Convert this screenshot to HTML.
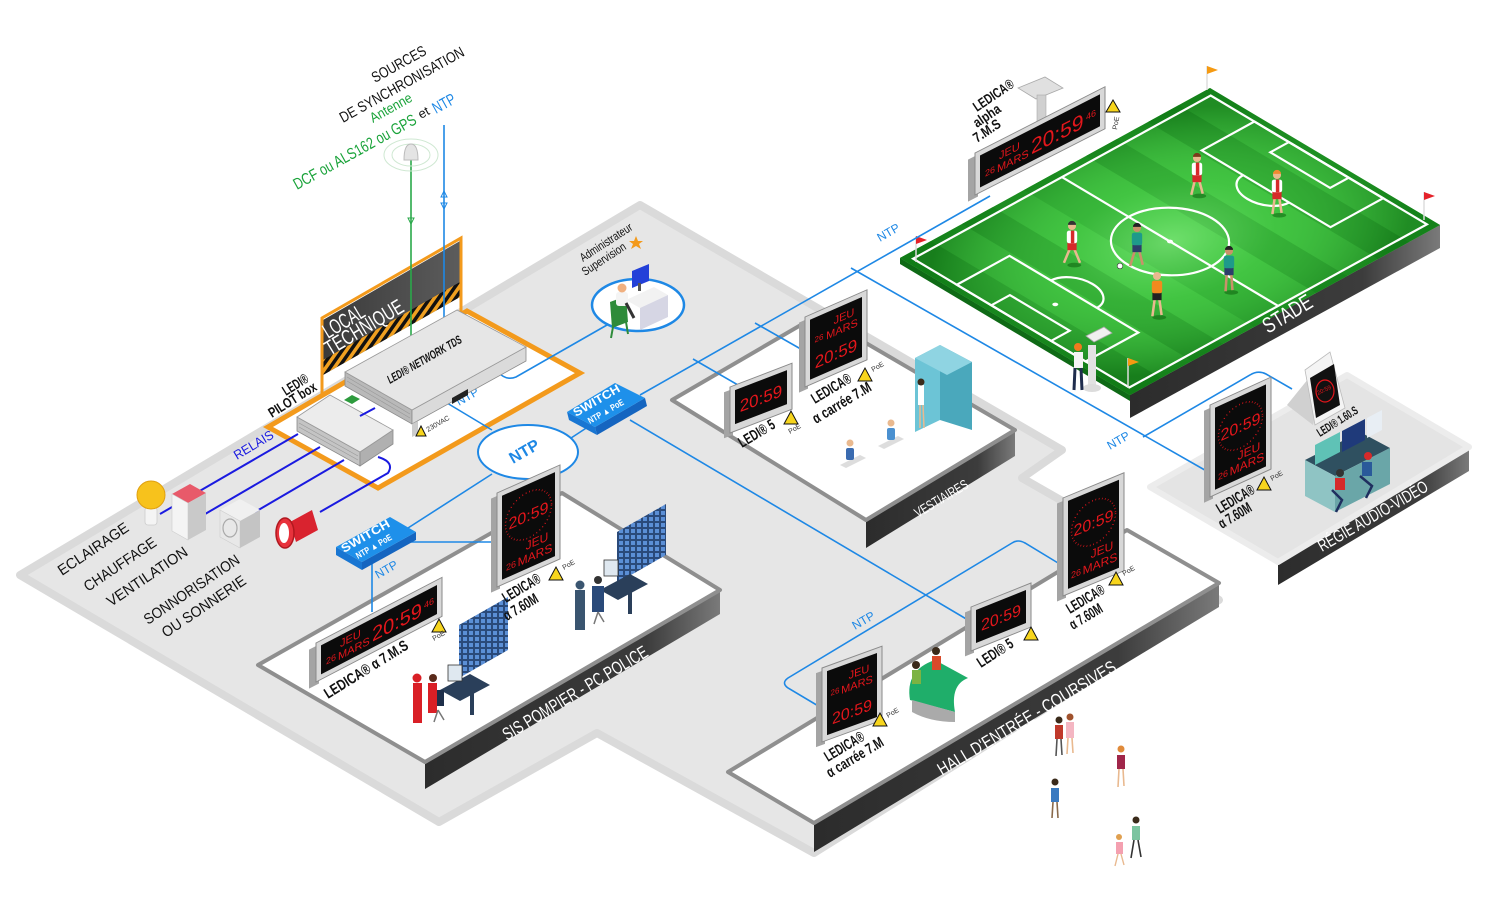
<!DOCTYPE html>
<html><head><meta charset="utf-8">
<style>
html,body{margin:0;padding:0;background:#fff;}
svg{display:block}
text{font-family:"Liberation Sans Narrow","Liberation Sans",Arial,sans-serif;}
.lb{font-weight:bold;fill:#111;}
.rd{fill:#e3161b;font-family:"Liberation Sans",sans-serif;}
.ntp{fill:none;stroke:#1e88e5;stroke-width:1.6;}
.rel{fill:none;stroke:#1a1ae0;stroke-width:2;}
.bt{fill:#1e88e5;}
.wt{fill:#fff;}
</style></head><body>
<svg width="1500" height="900" viewBox="0 0 1500 900" xmlns="http://www.w3.org/2000/svg">
<defs>
 <linearGradient id="dark" x1="0" y1="0" x2="1" y2="0">
  <stop offset="0" stop-color="#2c2c2c"/><stop offset="0.75" stop-color="#3c3c3c"/><stop offset="1" stop-color="#7a7a7a"/>
 </linearGradient>
 <linearGradient id="ltpanel" x1="0" y1="0" x2="1" y2="0">
  <stop offset="0" stop-color="#3a3a3a"/><stop offset="1" stop-color="#5c5c5c"/>
 </linearGradient>
 <pattern id="hazard" width="7" height="7" patternUnits="userSpaceOnUse" patternTransform="rotate(35)">
  <rect width="7" height="7" fill="#111"/><rect width="3.5" height="7" fill="#f0a020"/>
 </pattern>
 <radialGradient id="fieldglow" cx="0.5" cy="0.5" r="0.62">
  <stop offset="0" stop-color="#a0ff9a" stop-opacity="0.55"/><stop offset="0.45" stop-color="#70f070" stop-opacity="0.2"/><stop offset="1" stop-color="#004a08" stop-opacity="0.4"/>
 </radialGradient>
 <pattern id="grid" width="6" height="6" patternUnits="userSpaceOnUse">
  <rect width="6" height="6" fill="#2a4a7a"/><rect x="1" y="1" width="4" height="4" fill="#5b8fd6"/>
 </pattern>
</defs>

<rect width="1500" height="900" fill="#fff"/>

<!-- main floor -->
<path d="M20,575 L640,205 L1062,450 L1022,478 L1127,538 L1219,600 L814,853 L597,733 L439,822 Z" fill="#e6e6e6" stroke="#dadada" stroke-width="8" stroke-linejoin="round"/>

<!-- regie platform -->
<polygon points="1278,562 1469,447 1469,471 1278,585" fill="url(#dark)"/>
<polygon points="1150,487 1347,375 1469,447 1278,562" fill="#e4e4e4" stroke="#ececec" stroke-width="6" stroke-linejoin="round"/>
<text class="wt" font-size="17" transform="translate(1322,552) rotate(-30)" textLength="124" lengthAdjust="spacingAndGlyphs">RÉGIE AUDIO-VIDÉO</text>

<!-- stade -->
<polygon points="1130,395 1440,225 1440,248 1130,418" fill="url(#dark)"/>
<polygon points="900,258 1130,395 1130,401 900,264" fill="#0f6a16"/>
<g transform="matrix(3.1,-1.7,2.3,1.37,900,258)">
 <rect x="0" y="0" width="100" height="100" fill="#36b936"/>
 <rect x="0" y="0" width="10" height="100" fill="#27a129"/>
 <rect x="20" y="0" width="10" height="100" fill="#27a129"/>
 <rect x="40" y="0" width="10" height="100" fill="#2aa82c"/>
 <rect x="60" y="0" width="10" height="100" fill="#27a129"/>
 <rect x="80" y="0" width="10" height="100" fill="#27a129"/>
 <rect x="0" y="0" width="100" height="100" fill="url(#fieldglow)"/>
 <path d="M0,0 H100 V100 H0 Z M2,3 V97 H98 V3 Z" fill="#0d7a14" fill-rule="evenodd" opacity="0.55"/>
 <g fill="none" stroke="#fff" stroke-width="2.2">
  <rect x="2" y="3" width="96" height="94" vector-effect="non-scaling-stroke"/>
  <line x1="50" y1="3" x2="50" y2="97" vector-effect="non-scaling-stroke"/>
  <ellipse cx="50" cy="50" rx="13.6" ry="18" vector-effect="non-scaling-stroke"/>
  <rect x="2" y="22" width="17" height="56" vector-effect="non-scaling-stroke"/>
  <rect x="2" y="37" width="6" height="26" vector-effect="non-scaling-stroke"/>
  <path d="M19,40 A6,10 0 0 1 19,60" vector-effect="non-scaling-stroke"/>
  <rect x="81" y="22" width="17" height="56" vector-effect="non-scaling-stroke"/>
  <rect x="92" y="37" width="6" height="26" vector-effect="non-scaling-stroke"/>
  <path d="M81,40 A6,10 0 0 0 81,60" vector-effect="non-scaling-stroke"/>
 </g>
 <ellipse cx="13" cy="50" rx="0.7" ry="0.9" fill="#fff"/>
 <ellipse cx="50" cy="50" rx="0.7" ry="0.9" fill="#fff"/>
</g>
<text class="wt" font-size="22" transform="translate(1268,334) rotate(-31)" textLength="54" lengthAdjust="spacingAndGlyphs">STADE</text>
<!-- flags -->
<g stroke="#ddd" stroke-width="1.5">
 <line x1="1207" y1="90" x2="1207" y2="66"/><line x1="1424" y1="220" x2="1424" y2="192"/>
 <line x1="916" y1="262" x2="916" y2="236"/><line x1="1128" y1="388" x2="1128" y2="358"/>
</g>
<polygon points="1207,66 1218,70 1207,74" fill="#f59a12"/>
<polygon points="1424,192 1435,196 1424,200" fill="#e5222a"/>
<polygon points="916,236 927,240 916,244" fill="#e5222a"/>
<polygon points="1128,358 1139,362 1128,366" fill="#f59a12"/>
<!-- players -->
<g>
 <g transform="translate(1197,158) scale(1.15)"><ellipse cx="2" cy="33" rx="6" ry="2" fill="#0a5a0a" opacity=".5"/><path d="M-2,20 L-5,32 M2,20 L5,31" stroke="#e9b98f" stroke-width="2.2"/><rect x="-4" y="14" width="8" height="7" fill="#d62a2a"/><rect x="-4.5" y="4" width="9" height="11" rx="2" fill="#fff"/><rect x="-1" y="4" width="3" height="11" fill="#d62a2a"/><circle r="3.5" fill="#e9b98f"/><path d="M-3.5,-1 A3.5,3.5 0 0 1 3.5,-1" fill="#7a3b1a"/></g>
 <g transform="translate(1277,175) scale(1.15)"><ellipse cx="2" cy="35" rx="6" ry="2" fill="#0a5a0a" opacity=".5"/><path d="M-2,20 L-4,34 M2,20 L4,33" stroke="#e9b98f" stroke-width="2.2"/><rect x="-4" y="14" width="8" height="7" fill="#d62a2a"/><rect x="-4.5" y="4" width="9" height="11" rx="2" fill="#fff"/><rect x="-1" y="4" width="3" height="11" fill="#d62a2a"/><circle r="3.5" fill="#e9b98f"/><path d="M-3.5,-1 A3.5,3.5 0 0 1 3.5,-1" fill="#f08a30"/></g>
 <g transform="translate(1072,226) scale(1.15)"><ellipse cx="2" cy="34" rx="6" ry="2" fill="#0a5a0a" opacity=".5"/><path d="M-2,20 L-7,32 M2,20 L7,32" stroke="#e9b98f" stroke-width="2.2"/><rect x="-4" y="14" width="8" height="7" fill="#d62a2a"/><rect x="-4.5" y="4" width="9" height="11" rx="2" fill="#fff"/><rect x="-1" y="4" width="3" height="11" fill="#d62a2a"/><circle r="3.5" fill="#e9b98f"/><path d="M-3.5,-1 A3.5,3.5 0 0 1 3.5,-1" fill="#333"/></g>
 <g transform="translate(1137,228) scale(1.15)"><path d="M-2,20 L-6,33 M2,20 L5,32" stroke="#c9916a" stroke-width="2.2"/><rect x="-4" y="14" width="8" height="7" fill="#2c3e6a"/><rect x="-4.5" y="4" width="9" height="11" rx="2" fill="#1e9a8a"/><circle r="3.5" fill="#c9916a"/><path d="M-3.5,-1 A3.5,3.5 0 0 1 3.5,-1" fill="#222"/></g>
 <g transform="translate(1157,276) scale(1.15)"><ellipse cx="2" cy="36" rx="6" ry="2" fill="#0a5a0a" opacity=".5"/><path d="M-2,20 L-4,35 M2,20 L4,34" stroke="#e9b98f" stroke-width="2.2"/><rect x="-4" y="14" width="8" height="7" fill="#222"/><rect x="-4.5" y="4" width="9" height="11" rx="2" fill="#f28a1e"/><circle r="3.5" fill="#e9b98f"/></g>
 <g transform="translate(1229,251) scale(1.15)"><ellipse cx="2" cy="36" rx="6" ry="2" fill="#0a5a0a" opacity=".5"/><path d="M-2,20 L-3,35 M2,20 L3,34" stroke="#c9916a" stroke-width="2.2"/><rect x="-4" y="14" width="8" height="7" fill="#2c3e6a"/><rect x="-4.5" y="4" width="9" height="11" rx="2" fill="#1e9a8a"/><circle r="3.5" fill="#c9916a"/><path d="M-3.5,-1 A3.5,3.5 0 0 1 3.5,-1" fill="#222"/></g>
 <circle cx="1120" cy="266" r="2.8" fill="#fff" stroke="#333" stroke-width=".6"/>
</g>
<!-- camera man -->
<g>
 <rect x="1088" y="345" width="8" height="40" fill="#e2e2e2"/>
 <ellipse cx="1092" cy="388" rx="9" ry="4" fill="#dcdcdc"/>
 <polygon points="1086,336 1104,327 1112,333 1094,342" fill="#f0f0f0" stroke="#aaa" stroke-width=".8"/>
 <rect x="1074" y="352" width="9" height="16" fill="#f4f4f4"/>
 <path d="M1075,368 L1074,390 M1081,368 L1082,390" stroke="#1f2d4d" stroke-width="3"/>
 <circle cx="1078" cy="347" r="4" fill="#f07a1e"/>
</g>

<!-- vestiaires -->
<polygon points="866,520 1015,430 1015,456 866,548" fill="url(#dark)"/>
<polygon points="672,400 818,315 1015,430 866,520" fill="#fff" stroke="#8f8f8f" stroke-width="4" stroke-linejoin="round"/>
<text class="wt" font-size="14" transform="translate(918,518) rotate(-31)" textLength="60" lengthAdjust="spacingAndGlyphs">VESTIAIRES</text>

<!-- SIS -->
<polygon points="425,762 720,590 720,614 425,789" fill="url(#dark)"/>
<polygon points="258,665 562,493 720,590 425,762" fill="#fff" stroke="#8f8f8f" stroke-width="4" stroke-linejoin="round"/>
<text class="wt" font-size="18" transform="translate(507,741) rotate(-31)" textLength="166" lengthAdjust="spacingAndGlyphs">SIS POMPIER - PC POLICE</text>

<!-- Hall -->
<polygon points="814,823 1219,583 1219,607 814,852" fill="url(#dark)"/>
<polygon points="728,772 1127,530 1219,583 814,823" fill="#fff" stroke="#8f8f8f" stroke-width="4" stroke-linejoin="round"/>
<text class="wt" font-size="18" transform="translate(942,776) rotate(-31)" textLength="205" lengthAdjust="spacingAndGlyphs">HALL D'ENTRÉE - COURSIVES</text>

<!-- local technique floor -->
<polygon points="268,427 467,311 580,373 378,488" fill="#fff" stroke="#f39a1c" stroke-width="5" stroke-linejoin="miter"/>

<!-- NTP lines -->
<g class="ntp">
 <path d="M498,372 Q506,381 516,377 L607,325"/>
 <path d="M447,403 L492,430"/>
 <path d="M568,440 L597,421"/>
 <path d="M640,395 L990,196"/>
 <path d="M630,420 L968,620"/>
 <path d="M693,359 L738,385"/>
 <path d="M755,323 L806,352"/>
 <path d="M851,268 L1210,473"/>
 <path d="M1143,437 L1250,375 Q1258,370 1266,374 L1292,389"/>
 <path d="M492,474 L408,528"/>
 <path d="M411,542 L497,542"/>
 <path d="M372,560 L372,612"/>
 <path d="M820,707 L788,688 Q781,683 788,678 L1012,543 Q1018,539 1025,543 L1063,566"/>
</g>
<ellipse cx="528" cy="452" rx="50" ry="27" fill="#fff" stroke="#1e88e5" stroke-width="2"/>
<text class="bt" font-size="16" font-weight="bold" transform="translate(513,464) rotate(-30)">NTP</text>
<text class="bt" font-size="12" transform="translate(459,406) rotate(-30)">NTP</text>
<text class="bt" font-size="12" transform="translate(378,579) rotate(-30)">NTP</text>
<text class="bt" font-size="12" transform="translate(880,242) rotate(-30)">NTP</text>
<text class="bt" font-size="12" transform="translate(1110,450) rotate(-30)">NTP</text>
<text class="bt" font-size="12" transform="translate(855,630) rotate(-30)">NTP</text>

<!-- admin circle -->
<ellipse cx="638" cy="305" rx="46" ry="26" fill="#fff" stroke="#1e88e5" stroke-width="2.5"/>
<polygon points="626,300 654,287 668,295 640,308" fill="#f2f2f2"/>
<polygon points="640,308 668,295 668,317 640,330" fill="#d6d6e4"/>
<polygon points="632,271 649,264 649,281 632,288" fill="#2340d8"/>
<rect x="638" y="283" width="3" height="8" fill="#555"/>
<polygon points="610,302 626,296 628,322 612,328" fill="#2e8b3a"/>
<path d="M613,327 L611,338 M626,322 L628,334" stroke="#2e8b3a" stroke-width="2"/>
<rect x="616" y="292" width="12" height="14" rx="3" fill="#f4f4f4"/>
<circle cx="622" cy="288" r="4.5" fill="#f0b080"/>
<path d="M626,303 L634,318" stroke="#333" stroke-width="3"/>
<text font-size="12" fill="#111" transform="translate(583,262) rotate(-33)" textLength="60" lengthAdjust="spacingAndGlyphs">Administrateur</text>
<text font-size="12" fill="#111" transform="translate(585,276) rotate(-33)" textLength="50" lengthAdjust="spacingAndGlyphs">Supervision</text>
<polygon points="636,236 638,241 643,241 639,244 641,249 636,246 631,249 633,244 629,241 634,241" fill="#f39a1c"/>

<!-- switch upper -->
<polygon points="595,427 645,398 647,406 597,435" fill="#1565c0"/>
<polygon points="567,412 595,427 597,435 569,420" fill="#1976d2"/>
<polygon points="567,412 615,383 645,398 595,427" fill="#1e90ea"/>
<text class="wt" font-size="12" font-weight="bold" transform="translate(576,417) rotate(-30)" textLength="52" lengthAdjust="spacingAndGlyphs">SWITCH</text>
<text class="wt" font-size="9" font-weight="bold" transform="translate(590,424) rotate(-30)" textLength="40" lengthAdjust="spacingAndGlyphs">NTP ▲ PoE</text>

<!-- switch lower -->
<polygon points="362,562 416,532 416,540 362,570" fill="#1565c0"/>
<polygon points="336,547 362,562 362,570 336,555" fill="#1976d2"/>
<polygon points="336,547 390,517 416,532 362,562" fill="#1e90ea"/>
<text class="wt" font-size="12" font-weight="bold" transform="translate(344,553) rotate(-30)" textLength="54" lengthAdjust="spacingAndGlyphs">SWITCH</text>
<text class="wt" font-size="9" font-weight="bold" transform="translate(358,559) rotate(-30)" textLength="40" lengthAdjust="spacingAndGlyphs">NTP ▲ PoE</text>

<!-- Local technique panel -->
<polygon points="323,320 460,241 460,297 323,375" fill="url(#ltpanel)"/>
<polygon points="323,360 460,282 460,297 323,375" fill="url(#hazard)"/>
<path d="M322,395 L322,318 L461,238 L461,312" fill="none" stroke="#f39a1c" stroke-width="3"/>
<text class="wt" font-size="21" transform="translate(328,339) rotate(-31)" textLength="45" lengthAdjust="spacingAndGlyphs">LOCAL</text>
<text class="wt" font-size="21" transform="translate(330,356) rotate(-31)" textLength="88" lengthAdjust="spacingAndGlyphs">TECHNIQUE</text>

<!-- sync sources -->
<line x1="411" y1="160" x2="411" y2="360" stroke="#2aa84a" stroke-width="1.6"/>
<line x1="444" y1="125" x2="444" y2="330" stroke="#1e88e5" stroke-width="1.6"/>
<polygon points="408,218 414,218 411,224" fill="none" stroke="#2aa84a" stroke-width="1"/>
<polygon points="441,197 447,197 444,191" fill="none" stroke="#1e88e5" stroke-width="1"/>
<polygon points="441,203 447,203 444,209" fill="none" stroke="#1e88e5" stroke-width="1"/>
<ellipse cx="411" cy="155" rx="27" ry="16" fill="none" stroke="#cfe8d2" stroke-width="1"/>
<ellipse cx="411" cy="155" rx="19" ry="11" fill="none" stroke="#cfe8d2" stroke-width="1"/>
<path d="M404,160 Q404,144 411,144 Q418,144 418,160 Z" fill="#e4e4e4" stroke="#bbb" stroke-width="1"/>
<text font-size="15" fill="#111" transform="translate(375,83) rotate(-29)" textLength="60" lengthAdjust="spacingAndGlyphs">SOURCES</text>
<text font-size="15" fill="#111" transform="translate(343,123) rotate(-29)" textLength="140" lengthAdjust="spacingAndGlyphs">DE SYNCHRONISATION</text>
<text font-size="14" fill="#1aa33a" transform="translate(373,123) rotate(-29)" textLength="46" lengthAdjust="spacingAndGlyphs">Antenne</text>
<text font-size="16" fill="#1aa33a" transform="translate(297,190) rotate(-29)" textLength="138" lengthAdjust="spacingAndGlyphs">DCF ou ALS162 ou GPS</text>
<text font-size="13" fill="#111" transform="translate(421,119) rotate(-29)">et</text>
<text font-size="16" fill="#1e88e5" transform="translate(436,114) rotate(-29)" textLength="24" lengthAdjust="spacingAndGlyphs">NTP</text>

<!-- network box -->
<polygon points="345,372 412,410 412,424 345,386" fill="#b9b9b9" stroke="#8a8a8a" stroke-width=".8"/>
<g stroke="#999" stroke-width=".6"><line x1="347" y1="377" x2="410" y2="414"/><line x1="347" y1="381" x2="410" y2="418"/></g>
<polygon points="412,410 526,347 526,361 412,424" fill="#dadada" stroke="#8a8a8a" stroke-width=".8"/>
<polygon points="345,372 457,310 526,347 412,410" fill="#e6e6e6" stroke="#9a9a9a" stroke-width=".8"/>
<polygon points="452,398 468,389 468,395 452,404" fill="#222"/>
<text font-size="12" font-weight="bold" font-style="italic" fill="#111" transform="translate(390,384) rotate(-30)" textLength="84" lengthAdjust="spacingAndGlyphs">LEDI® NETWORK TDS</text>
<polygon points="412,424 412,437 418,434 418,421" fill="#ccc"/>
<polygon points="416,436 421,426 426,436" fill="#f7d51d" stroke="#111" stroke-width="1"/>
<text font-size="7" fill="#333" transform="translate(428,432) rotate(-30)">230VAC</text>

<!-- pilot box -->
<polygon points="297,417 360,452 360,466 297,431" fill="#c4c4c4" stroke="#8a8a8a" stroke-width=".8"/>
<g stroke="#999" stroke-width=".6"><line x1="299" y1="423" x2="358" y2="456"/><line x1="299" y1="427" x2="358" y2="460"/></g>
<polygon points="360,452 393,430 393,444 360,466" fill="#b0b0b0" stroke="#8a8a8a" stroke-width=".8"/>
<polygon points="297,417 330,395 393,430 360,452" fill="#ececec" stroke="#9a9a9a" stroke-width=".8"/>
<polygon points="344,400 352,395 360,399 352,404" fill="#2e9b3e"/>
<text class="lb" font-size="14" transform="translate(286,396) rotate(-32)" textLength="28" lengthAdjust="spacingAndGlyphs">LEDI®</text>
<text class="lb" font-size="14" transform="translate(272,418) rotate(-32)" textLength="54" lengthAdjust="spacingAndGlyphs">PILOT box</text>

<!-- relay lines -->
<g class="rel">
 <path d="M298,434 L160,514"/>
 <path d="M320,447 L200,517"/>
 <path d="M344,460 L255,512"/>
 <path d="M378,457 Q395,462 388,473 L320,512"/>
 <path d="M360,416 L375,408"/>
</g>
<text font-size="13" fill="#1a1ae0" transform="translate(237,460) rotate(-31)" textLength="44" lengthAdjust="spacingAndGlyphs">RELAIS</text>

<!-- devices -->
<rect x="145" y="507" width="12" height="18" rx="3" fill="#f4f4f4" stroke="#ccc" stroke-width=".8"/>
<circle cx="151" cy="495" r="14" fill="#f7c21c" stroke="#e0a010" stroke-width="1"/>
<polygon points="172,494 190,484 206,493 188,503" fill="#e85a6a"/>
<polygon points="172,494 188,503 188,540 172,531" fill="#f4f4f4" stroke="#ccc" stroke-width=".6"/>
<polygon points="188,503 206,493 206,530 188,540" fill="#c9c9c9"/>
<polygon points="220,510 240,499 260,510 240,521" fill="#f0f0f0"/>
<polygon points="220,510 240,521 240,548 220,537" fill="#e8e8e8" stroke="#ccc" stroke-width=".6"/>
<polygon points="240,521 260,510 260,537 240,548" fill="#c4c4c4"/>
<ellipse cx="230" cy="528" rx="7" ry="9" fill="none" stroke="#aaa" stroke-width="1.2"/>
<polygon points="290,522 312,510 318,530 296,542" fill="#d9232f"/>
<ellipse cx="285" cy="533" rx="9" ry="15" fill="#e8323c" stroke="#b0181f" stroke-width="1.5"/>
<ellipse cx="284" cy="533" rx="5" ry="10" fill="#fff"/>
<text font-size="15" fill="#111" transform="translate(62,576) rotate(-34)" textLength="82" lengthAdjust="spacingAndGlyphs">ECLAIRAGE</text>
<text font-size="15" fill="#111" transform="translate(88,592) rotate(-34)" textLength="84" lengthAdjust="spacingAndGlyphs">CHAUFFAGE</text>
<text font-size="15" fill="#111" transform="translate(111,607) rotate(-34)" textLength="94" lengthAdjust="spacingAndGlyphs">VENTILATION</text>
<text font-size="15" fill="#111" transform="translate(148,625) rotate(-34)" textLength="112" lengthAdjust="spacingAndGlyphs">SONNORISATION</text>
<text font-size="15" fill="#111" transform="translate(166,638) rotate(-34)" textLength="98" lengthAdjust="spacingAndGlyphs">OU SONNERIE</text>

<!-- SIS content -->
<polygon points="459,625 508,597 508,650 459,678" fill="url(#grid)"/>
<polygon points="617,532 666,504 666,555 617,583" fill="url(#grid)"/>
<g>
 <polygon points="440,690 470,674 490,685 460,701" fill="#2a3f5a"/>
 <rect x="470" y="685" width="4" height="30" fill="#2a3f5a"/>
 <rect x="448" y="665" width="14" height="16" fill="#dfe8f0" stroke="#333" stroke-width=".8"/>
 <rect x="433" y="690" width="11" height="16" fill="#1e2f4a"/>
 <rect x="413" y="683" width="9" height="40" fill="#d91f26"/>
 <circle cx="417" cy="678" r="4.5" fill="#d91f26"/>
 <rect x="428" y="683" width="9" height="30" fill="#d91f26"/>
 <circle cx="433" cy="678" r="4" fill="#5a2a1a"/>
 <path d="M438,710 L434,722 M438,710 L444,720" stroke="#777" stroke-width="1.5"/>
</g>
<g>
 <polygon points="600,590 630,574 648,584 618,600" fill="#2a3f5a"/>
 <rect x="628" y="584" width="4" height="30" fill="#2a3f5a"/>
 <rect x="604" y="560" width="14" height="16" fill="#dfe8f0" stroke="#333" stroke-width=".8"/>
 <rect x="575" y="590" width="10" height="40" fill="#3a5570"/>
 <circle cx="580" cy="585" r="4.5" fill="#3a5570"/>
 <rect x="592" y="586" width="12" height="26" fill="#2a4a7a"/>
 <circle cx="598" cy="580" r="4" fill="#333"/>
 <path d="M598,612 L594,624 M598,612 L604,622" stroke="#777" stroke-width="1.5"/>
</g>

<!-- vestiaires content -->
<polygon points="915,358 940,345 940,420 915,432" fill="#6cc4d6"/>
<polygon points="940,345 972,362 972,430 940,420" fill="#4aa8bc"/>
<polygon points="915,358 940,345 972,362 947,375" fill="#8fd4e2"/>
<rect x="918" y="385" width="6" height="20" fill="#fff"/>
<circle cx="921" cy="382" r="3.5" fill="#3a2a1a"/>
<path d="M920,405 L920,428 M923,405 L924,428" stroke="#e9b98f" stroke-width="1.5"/>
<g>
 <polygon points="840,465 860,455 866,458 846,468" fill="#ddd"/>
 <rect x="846" y="448" width="8" height="12" rx="2" fill="#3a6bb0"/>
 <circle cx="850" cy="443" r="3.5" fill="#e9b98f"/>
 <polygon points="878,446 898,436 904,439 884,449" fill="#ddd"/>
 <rect x="887" y="428" width="8" height="12" rx="2" fill="#4a90d0"/>
 <circle cx="891" cy="423" r="3.5" fill="#e9b98f"/>
</g>

<!-- hall content -->
<path d="M910,700 Q905,670 935,660 L968,678 Q950,685 955,712 Z" fill="#1fae6a"/>
<path d="M912,700 L955,712 L955,722 Q930,722 912,712 Z" fill="#aaa"/>
<rect x="912" y="670" width="9" height="14" fill="#7cb342"/><circle cx="916" cy="665" r="4" fill="#3a2a1a"/>
<rect x="932" y="656" width="9" height="14" fill="#d84a2a"/><circle cx="936" cy="651" r="4" fill="#3a2a1a"/>
<g>
 <rect x="1055" y="725" width="8" height="14" fill="#c0392b"/><circle cx="1059" cy="720" r="3.5" fill="#3a2a1a"/><path d="M1057,739 L1056,756 M1061,739 L1062,755" stroke="#555" stroke-width="1.6"/>
 <rect x="1066" y="722" width="8" height="16" fill="#f4b6c2"/><circle cx="1070" cy="717" r="3.5" fill="#a0522d"/><path d="M1068,738 L1067,754 M1072,738 L1073,753" stroke="#e9b98f" stroke-width="1.6"/>
 <rect x="1117" y="755" width="8" height="14" fill="#a0264a"/><circle cx="1121" cy="749" r="3.5" fill="#e08a3a"/><path d="M1119,769 L1118,787 M1123,769 L1124,786" stroke="#e9b98f" stroke-width="1.6"/>
 <rect x="1051" y="788" width="8" height="14" fill="#3a7ac0"/><circle cx="1055" cy="782" r="3.5" fill="#3a2a1a"/><path d="M1053,802 L1052,818 M1057,802 L1058,818" stroke="#8a6a4a" stroke-width="1.6"/>
 <rect x="1132" y="826" width="8" height="14" fill="#7cc4a0"/><circle cx="1136" cy="820" r="3.5" fill="#3a2a1a"/><path d="M1134,840 L1131,858 M1138,840 L1141,857" stroke="#333" stroke-width="1.6"/>
 <rect x="1116" y="842" width="7" height="12" fill="#f4a0b0"/><circle cx="1119" cy="837" r="3" fill="#e0a050"/><path d="M1118,854 L1115,866 M1121,854 L1124,865" stroke="#e9b98f" stroke-width="1.4"/>
</g>

<!-- regie content -->
<polygon points="1305,460 1360,432 1390,448 1335,476" fill="#2f5060"/>
<polygon points="1305,460 1335,476 1335,512 1305,496" fill="#8fc4c4"/>
<polygon points="1335,476 1390,448 1390,484 1335,512" fill="#6aa6a8"/>
<polygon points="1315,445 1340,432 1340,452 1315,465" fill="#5fc2b6"/>
<polygon points="1342,431 1365,419 1365,440 1342,452" fill="#1f3a7a"/>
<polygon points="1367,418 1382,410 1382,430 1367,438" fill="#e8eef4"/>
<rect x="1335" y="478" width="10" height="12" fill="#d62a2a"/><circle cx="1340" cy="473" r="4" fill="#333"/>
<rect x="1362" y="462" width="10" height="14" fill="#2a5a9a"/><circle cx="1368" cy="456" r="4" fill="#d62a2a"/>
<path d="M1332,490 L1342,500 L1336,512 M1360,476 L1372,486 L1366,498" stroke="#1f2f5f" stroke-width="2.5" fill="none"/>

<!-- LEDI 1.60.S -->
<polygon points="1287,405 1330,352 1313,425" fill="#d0d0d0"/>
<polygon points="1305,370 1330,352 1345,408 1315,425" fill="#f4f4f4" stroke="#bbb" stroke-width=".8"/>
<polygon points="1310,378 1334,364 1340,405 1316,418" fill="#111"/>
<ellipse cx="1325" cy="391" rx="9" ry="11" fill="none" stroke="#e3161b" stroke-width="1.2"/>
<text class="rd" font-size="6" transform="translate(1318,395) rotate(-25)">20:59</text>
<text class="lb" font-size="12" transform="translate(1320,437) rotate(-32)" textLength="46" lengthAdjust="spacingAndGlyphs">LEDI® 1.60.S</text>

<!-- CLOCKS -->
<!-- stade alpha -->
<polygon points="1018,88 1045,77 1063,88 1036,99" fill="#e0e0e0" stroke="#aaa" stroke-width=".8"/>
<rect x="1037" y="95" width="9" height="36" fill="#d0d0d0" stroke="#aaa" stroke-width=".6"/>
<g transform="translate(975,153) skewY(-27)">
 <rect x="-7" y="3" width="10" height="42" fill="#a4a4a4"/>
 <rect width="130" height="42" fill="#d8d8d8" stroke="#8a8a8a"/>
 <rect x="5" y="5" width="120" height="32" fill="#0b0b0b"/>
 <text class="rd" x="10" y="29" font-size="9">26</text>
 <text class="rd" x="24" y="19" font-size="11">JEU</text>
 <text class="rd" x="22" y="31" font-size="11">MARS</text>
 <text class="rd" x="56" y="30" font-size="21">20:59</text>
 <text class="rd" x="111" y="24" font-size="9">46</text>
</g>
<polygon points="1106,112 1113,100 1120,112" fill="#f7d51d" stroke="#111" stroke-width="1"/>
<text font-size="7" fill="#333" transform="translate(1117,130) rotate(-80)">PoE</text>
<text class="lb" font-size="14" transform="translate(977,112) rotate(-34)" textLength="46" lengthAdjust="spacingAndGlyphs">LEDICA®</text>
<text class="lb" font-size="14" transform="translate(977,128) rotate(-34)" textLength="30" lengthAdjust="spacingAndGlyphs">alpha</text>
<text class="lb" font-size="14" transform="translate(977,143) rotate(-34)" textLength="30" lengthAdjust="spacingAndGlyphs">7.M.S</text>

<!-- vest LEDI 5 -->
<g transform="translate(730,387) skewY(-21)">
 <rect x="-6" y="3" width="9" height="46" fill="#a4a4a4"/>
 <rect width="62" height="46" fill="#d8d8d8" stroke="#8a8a8a"/>
 <rect x="5" y="5" width="52" height="34" fill="#0b0b0b"/>
 <text class="rd" x="31" y="29" font-size="17" text-anchor="middle">20:59</text>
</g>
<polygon points="784,424 791,411 798,424" fill="#f7d51d" stroke="#111" stroke-width="1"/>
<text font-size="7" fill="#333" transform="translate(790,434) rotate(-30)">PoE</text>
<text class="lb" font-size="15" transform="translate(742,448) rotate(-31)" textLength="40" lengthAdjust="spacingAndGlyphs">LEDI® 5</text>

<!-- vest carree -->
<g transform="translate(805,317) skewY(-23.7)">
 <rect x="-6" y="3" width="9" height="70" fill="#a4a4a4"/>
 <rect width="62" height="70" fill="#d8d8d8" stroke="#8a8a8a"/>
 <rect x="5" y="5" width="52" height="60" fill="#0b0b0b"/>
 <text class="rd" x="39" y="20" font-size="11" text-anchor="middle">JEU</text>
 <text class="rd" x="37" y="32" font-size="11" text-anchor="middle">MARS</text>
 <text class="rd" x="14" y="30" font-size="8" text-anchor="middle">26</text>
 <text class="rd" x="31" y="56" font-size="17" text-anchor="middle">20:59</text>
</g>
<polygon points="858,381 865,368 872,381" fill="#f7d51d" stroke="#111" stroke-width="1"/>
<text font-size="7" fill="#333" transform="translate(873,372) rotate(-30)">PoE</text>
<text class="lb" font-size="15" transform="translate(815,404) rotate(-31)" textLength="44" lengthAdjust="spacingAndGlyphs">LEDICA®</text>
<text class="lb" font-size="15" transform="translate(816,424) rotate(-31)" textLength="66" lengthAdjust="spacingAndGlyphs">α carrée 7.M</text>

<!-- SIS 7.60M -->
<g transform="translate(497,493) skewY(-24)">
 <rect x="-6" y="3" width="9" height="94" fill="#a4a4a4"/>
 <rect width="63" height="94" fill="#d8d8d8" stroke="#8a8a8a"/>
 <rect x="5" y="5" width="53" height="84" fill="#0b0b0b"/>
 <circle cx="31.5" cy="36" r="23" fill="none" stroke="#d8141a" stroke-width="1.6" stroke-dasharray="0.8 2.6"/>
 <text class="rd" x="31.5" y="42" font-size="16" text-anchor="middle">20:59</text>
 <text class="rd" x="40" y="70" font-size="12" text-anchor="middle">JEU</text>
 <text class="rd" x="38" y="83" font-size="12" text-anchor="middle">MARS</text>
 <text class="rd" x="14" y="82" font-size="9" text-anchor="middle">26</text>
</g>
<polygon points="549,580 556,567 563,580" fill="#f7d51d" stroke="#111" stroke-width="1"/>
<text font-size="7" fill="#333" transform="translate(564,570) rotate(-30)">PoE</text>
<text class="lb" font-size="15" transform="translate(506,603) rotate(-31)" textLength="42" lengthAdjust="spacingAndGlyphs">LEDICA®</text>
<text class="lb" font-size="15" transform="translate(507,621) rotate(-31)" textLength="38" lengthAdjust="spacingAndGlyphs">α 7.60M</text>

<!-- SIS 7.M.S -->
<g transform="translate(316,643) skewY(-27.5)">
 <rect x="-7" y="3" width="10" height="39" fill="#a4a4a4"/>
 <rect width="126" height="39" fill="#d8d8d8" stroke="#8a8a8a"/>
 <rect x="5" y="5" width="116" height="29" fill="#0b0b0b"/>
 <text class="rd" x="10" y="27" font-size="9">26</text>
 <text class="rd" x="24" y="17" font-size="11">JEU</text>
 <text class="rd" x="22" y="29" font-size="11">MARS</text>
 <text class="rd" x="56" y="28" font-size="20">20:59</text>
 <text class="rd" x="108" y="22" font-size="9">46</text>
</g>
<polygon points="432,632 439,619 446,632" fill="#f7d51d" stroke="#111" stroke-width="1"/>
<text font-size="7" fill="#333" transform="translate(434,641) rotate(-30)">PoE</text>
<text class="lb" font-size="15" transform="translate(328,699) rotate(-32)" textLength="96" lengthAdjust="spacingAndGlyphs">LEDICA® α 7.M.S</text>

<!-- hall 7.60M -->
<g transform="translate(1063,498) skewY(-22.5)">
 <rect x="-6" y="3" width="9" height="98" fill="#a4a4a4"/>
 <rect width="61" height="98" fill="#d8d8d8" stroke="#8a8a8a"/>
 <rect x="5" y="5" width="51" height="88" fill="#0b0b0b"/>
 <circle cx="30.5" cy="37" r="22" fill="none" stroke="#d8141a" stroke-width="1.6" stroke-dasharray="0.8 2.6"/>
 <text class="rd" x="30.5" y="43" font-size="16" text-anchor="middle">20:59</text>
 <text class="rd" x="39" y="72" font-size="12" text-anchor="middle">JEU</text>
 <text class="rd" x="37" y="85" font-size="12" text-anchor="middle">MARS</text>
 <text class="rd" x="13" y="84" font-size="9" text-anchor="middle">26</text>
</g>
<polygon points="1109,585 1116,572 1123,585" fill="#f7d51d" stroke="#111" stroke-width="1"/>
<text font-size="7" fill="#333" transform="translate(1124,576) rotate(-30)">PoE</text>
<text class="lb" font-size="15" transform="translate(1070,614) rotate(-31)" textLength="42" lengthAdjust="spacingAndGlyphs">LEDICA®</text>
<text class="lb" font-size="15" transform="translate(1073,630) rotate(-31)" textLength="36" lengthAdjust="spacingAndGlyphs">α 7.60M</text>

<!-- hall LEDI 5 -->
<g transform="translate(971,607) skewY(-21.8)">
 <rect x="-6" y="3" width="9" height="44" fill="#a4a4a4"/>
 <rect width="60" height="44" fill="#d8d8d8" stroke="#8a8a8a"/>
 <rect x="5" y="5" width="50" height="33" fill="#0b0b0b"/>
 <text class="rd" x="30" y="28" font-size="16" text-anchor="middle">20:59</text>
</g>
<polygon points="1024,640 1031,627 1038,640" fill="#f7d51d" stroke="#111" stroke-width="1"/>
<text class="lb" font-size="15" transform="translate(981,668) rotate(-33)" textLength="40" lengthAdjust="spacingAndGlyphs">LEDI® 5</text>

<!-- hall carree -->
<g transform="translate(822,668) skewY(-20)">
 <rect x="-6" y="3" width="9" height="74" fill="#a4a4a4"/>
 <rect width="60" height="74" fill="#d8d8d8" stroke="#8a8a8a"/>
 <rect x="5" y="5" width="50" height="64" fill="#0b0b0b"/>
 <text class="rd" x="37" y="21" font-size="11" text-anchor="middle">JEU</text>
 <text class="rd" x="35" y="33" font-size="11" text-anchor="middle">MARS</text>
 <text class="rd" x="13" y="31" font-size="8" text-anchor="middle">26</text>
 <text class="rd" x="30" y="60" font-size="16" text-anchor="middle">20:59</text>
</g>
<polygon points="873,726 880,713 887,726" fill="#f7d51d" stroke="#111" stroke-width="1"/>
<text font-size="7" fill="#333" transform="translate(888,718) rotate(-30)">PoE</text>
<text class="lb" font-size="15" transform="translate(828,762) rotate(-31)" textLength="44" lengthAdjust="spacingAndGlyphs">LEDICA®</text>
<text class="lb" font-size="15" transform="translate(830,778) rotate(-31)" textLength="64" lengthAdjust="spacingAndGlyphs">α carrée 7.M</text>

<!-- regie 7.60M -->
<g transform="translate(1210,405) skewY(-24.6)">
 <rect x="-6" y="3" width="9" height="92" fill="#a4a4a4"/>
 <rect width="61" height="92" fill="#d8d8d8" stroke="#8a8a8a"/>
 <rect x="5" y="5" width="51" height="82" fill="#0b0b0b"/>
 <circle cx="30.5" cy="35" r="22" fill="none" stroke="#d8141a" stroke-width="1.6" stroke-dasharray="0.8 2.6"/>
 <text class="rd" x="30.5" y="41" font-size="16" text-anchor="middle">20:59</text>
 <text class="rd" x="39" y="68" font-size="12" text-anchor="middle">JEU</text>
 <text class="rd" x="37" y="80" font-size="12" text-anchor="middle">MARS</text>
 <text class="rd" x="13" y="79" font-size="9" text-anchor="middle">26</text>
</g>
<polygon points="1257,490 1264,477 1271,490" fill="#f7d51d" stroke="#111" stroke-width="1"/>
<text font-size="7" fill="#333" transform="translate(1272,481) rotate(-30)">PoE</text>
<text class="lb" font-size="15" transform="translate(1220,514) rotate(-31)" textLength="42" lengthAdjust="spacingAndGlyphs">LEDICA®</text>
<text class="lb" font-size="15" transform="translate(1222,529) rotate(-31)" textLength="36" lengthAdjust="spacingAndGlyphs">α 7.60M</text>

</svg>
</body></html>
